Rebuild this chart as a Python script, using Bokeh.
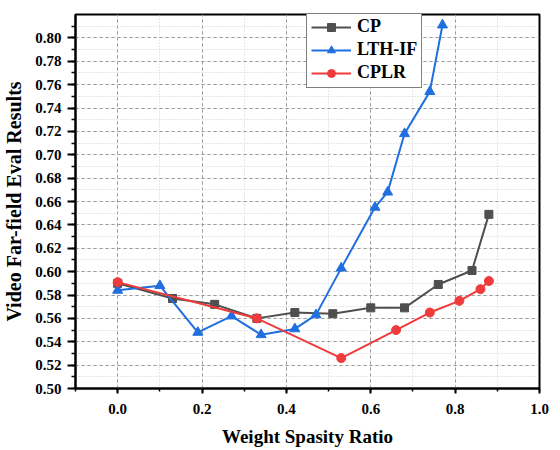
from bokeh.plotting import figure
from bokeh.models import Range1d, SingleIntervalTicker, NumeralTickFormatter, Legend, LegendItem
from bokeh.embed import file_html
from bokeh.resources import INLINE

cp_x = [0.0, 0.13, 0.23, 0.33, 0.42, 0.51, 0.60, 0.68, 0.76, 0.84, 0.88]
cp_y = [0.590, 0.577, 0.572, 0.560, 0.565, 0.564, 0.569, 0.569, 0.589, 0.601, 0.649]

lth_x = [0.0, 0.10, 0.19, 0.27, 0.34, 0.42, 0.47, 0.53, 0.61, 0.64, 0.68, 0.74, 0.77]
lth_y = [0.584, 0.588, 0.548, 0.562, 0.546, 0.551, 0.563, 0.603, 0.655, 0.668, 0.718, 0.754, 0.811]

cplr_x = [0.0, 0.33, 0.53, 0.66, 0.74, 0.81, 0.86, 0.88]
cplr_y = [0.591, 0.560, 0.526, 0.550, 0.565, 0.575, 0.585, 0.592]

FONT = "Times"
CP_C = "#4f4f4f"
LTH_C = "#1f6fe0"
CPLR_C = "#ef3b3b"

p = figure(frame_width=464, frame_height=374, output_backend="svg", toolbar_location=None,
           x_range=Range1d(-0.1, 1.0), y_range=Range1d(0.50, 0.82),
           min_border_left=68, min_border_right=12, min_border_top=14, min_border_bottom=10)
p.background_fill_color = "white"
p.outline_line_color = "black"
p.outline_line_width = 2

p.xaxis.ticker = SingleIntervalTicker(interval=0.2, num_minor_ticks=2)
p.yaxis.ticker = SingleIntervalTicker(interval=0.02, num_minor_ticks=2)
p.xaxis.formatter = NumeralTickFormatter(format="0.0")
p.yaxis.formatter = NumeralTickFormatter(format="0.00")

for ax in (p.xaxis, p.yaxis):
    ax.axis_line_width = 2
    ax.axis_line_color = "black"
    ax.major_tick_line_width = 2
    ax.minor_tick_line_width = 1.5
    ax.major_tick_in = 0
    ax.minor_tick_in = 0
    ax.major_label_text_font = FONT
    ax.major_label_text_font_style = "bold"
    ax.major_label_text_font_size = "15px"
    ax.major_label_text_color = "black"
    ax.axis_label_text_font = FONT
    ax.axis_label_text_font_style = "bold"
    ax.axis_label_text_color = "black"

p.xaxis.axis_label_text_font_size = "19px"
p.yaxis.axis_label_text_font_size = "20px"
p.xaxis.major_tick_out = 5
p.xaxis.minor_tick_out = 3
p.yaxis.major_tick_out = 8
p.yaxis.minor_tick_out = 4
p.xaxis.major_label_standoff = 10
p.xaxis.axis_label_standoff = 9
p.yaxis.major_label_standoff = 6
p.yaxis.axis_label_standoff = 7
p.xaxis.axis_label = "Weight Spasity Ratio"
p.yaxis.axis_label = "Video Far-field Eval Results"

p.grid.grid_line_color = "#9a9a9a"
p.grid.grid_line_dash = "3 3"
p.grid.grid_line_width = 1
p.grid.minor_grid_line_color = "#cfcfcf"
p.grid.minor_grid_line_dash = "1 2"
p.grid.minor_grid_line_width = 1

l1 = p.line(cp_x, cp_y, line_color=CP_C, line_width=2)
s1 = p.scatter(cp_x, cp_y, marker="square", size=8, fill_color=CP_C, line_color=CP_C)
l2 = p.line(lth_x, lth_y, line_color=LTH_C, line_width=2)
s2 = p.scatter(lth_x, lth_y, marker="triangle", size=10, fill_color=LTH_C, line_color=LTH_C)
l3 = p.line(cplr_x, cplr_y, line_color=CPLR_C, line_width=2)
s3 = p.scatter(cplr_x, cplr_y, marker="circle", size=9, fill_color=CPLR_C, line_color=CPLR_C)

legend = Legend(items=[
    LegendItem(label="CP", renderers=[l1, s1]),
    LegendItem(label="LTH-IF", renderers=[l2, s2]),
    LegendItem(label="CPLR", renderers=[l3, s3]),
], location=(231, 300))
legend.label_text_font = FONT
legend.label_text_font_style = "bold"
legend.label_text_font_size = "18px"
legend.label_text_color = "black"
legend.border_line_color = "black"
legend.border_line_width = 1.5
legend.padding = 4
legend.spacing = 2
legend.margin = 0
legend.glyph_width = 40
legend.glyph_height = 20
legend.label_height = 20
legend.label_standoff = 6
legend.background_fill_alpha = 1
p.add_layout(legend, "center")

open("out.html", "w").write(file_html(p, INLINE))
